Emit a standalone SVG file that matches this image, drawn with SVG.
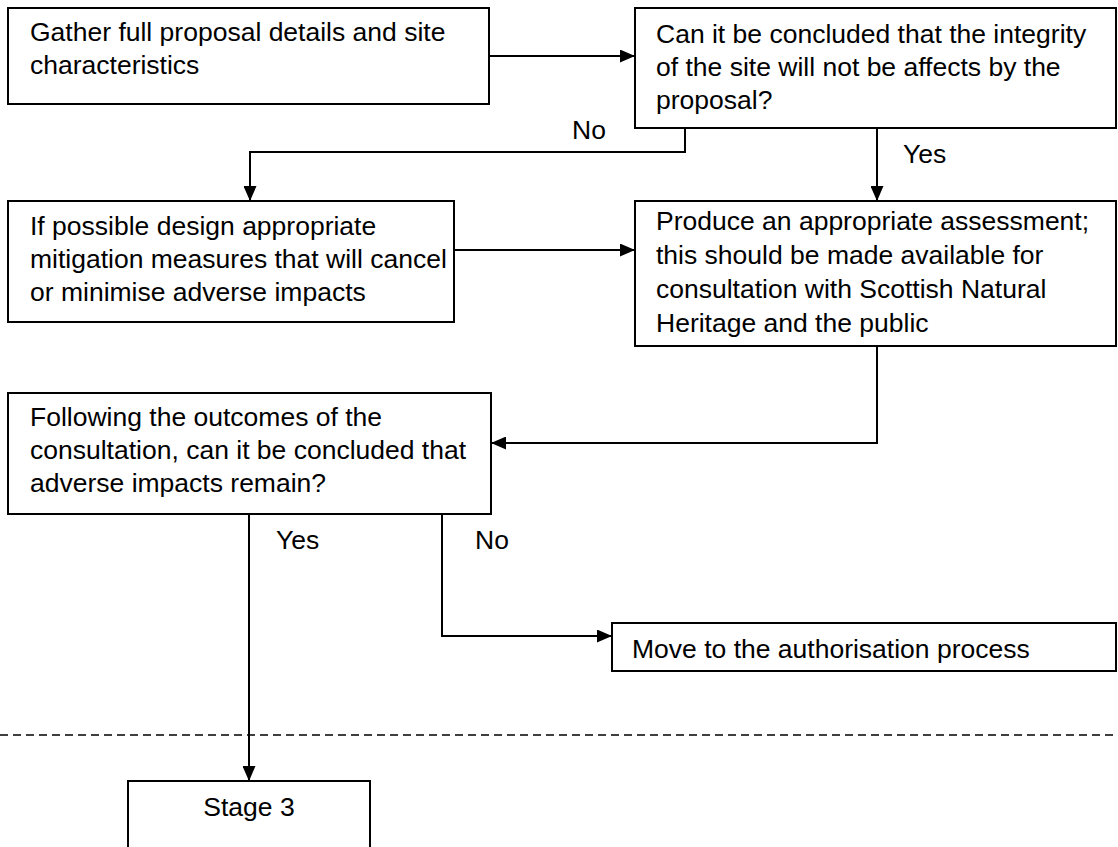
<svg xmlns="http://www.w3.org/2000/svg" width="1118" height="847" viewBox="0 0 1118 847">
  <defs>
    <marker id="arrow" viewBox="0 0 15 13" refX="15" refY="6.5" markerWidth="15" markerHeight="13" markerUnits="userSpaceOnUse" orient="auto">
      <path d="M0,0 L15,6.5 L0,13 Z" fill="#000"/>
    </marker>
    <style>
      .box { fill: #fff; stroke: #000; stroke-width: 2; }
      .txt { font-family: "Liberation Sans", Arial, sans-serif; font-size: 26.5px; fill: #000; }
      .link { fill: none; stroke: #000; stroke-width: 2; }
      .dash { fill: none; stroke: #000; stroke-width: 1.3; stroke-dasharray: 8 5; }
    </style>
  </defs>
  <rect width="1118" height="847" fill="#fff"/>

  <g id="connectors">
    <path class="link" d="M489,56 H635" marker-end="url(#arrow)"/>
    <path class="link" d="M685,128 V152 H250 V201" marker-end="url(#arrow)"/>
    <path class="link" d="M877,128 V201" marker-end="url(#arrow)"/>
    <path class="link" d="M454,250 H635" marker-end="url(#arrow)"/>
    <path class="link" d="M877,346 V443 H491" marker-end="url(#arrow)"/>
    <path class="link" d="M249,514 V781" marker-end="url(#arrow)"/>
    <path class="link" d="M442,514 V636 H612" marker-end="url(#arrow)"/>
    <text class="txt" x="572" y="139">No</text>
    <text class="txt" x="903" y="163">Yes</text>
    <text class="txt" x="276" y="549">Yes</text>
    <text class="txt" x="475" y="549">No</text>
  </g>

  <g id="gather">
    <rect class="box" x="8" y="8" width="481" height="96"/>
    <text class="txt" x="30" y="41">Gather full proposal details and site</text>
    <text class="txt" x="30" y="74">characteristics</text>
  </g>

  <g id="integrity">
    <rect class="box" x="635" y="8" width="481" height="120"/>
    <text class="txt" x="656" y="43">Can it be concluded that the integrity</text>
    <text class="txt" x="656" y="76">of the site will not be affects by the</text>
    <text class="txt" x="656" y="109">proposal?</text>
  </g>

  <g id="mitigation">
    <rect class="box" x="8" y="201" width="446" height="121"/>
    <text class="txt" x="30" y="235">If possible design appropriate</text>
    <text class="txt" x="30" y="268">mitigation measures that will cancel</text>
    <text class="txt" x="30" y="301">or minimise adverse impacts</text>
  </g>

  <g id="assessment">
    <rect class="box" x="635" y="201" width="481" height="145"/>
    <text class="txt" x="656" y="230">Produce an appropriate assessment;</text>
    <text class="txt" x="656" y="264">this should be made available for</text>
    <text class="txt" x="656" y="298">consultation with Scottish Natural</text>
    <text class="txt" x="656" y="332">Heritage and the public</text>
  </g>

  <g id="outcomes">
    <rect class="box" x="8" y="393" width="483" height="121"/>
    <text class="txt" x="30" y="426">Following the outcomes of the</text>
    <text class="txt" x="30" y="459">consultation, can it be concluded that</text>
    <text class="txt" x="30" y="492">adverse impacts remain?</text>
  </g>

  <g id="authorisation">
    <rect class="box" x="612" y="623" width="504" height="48"/>
    <text class="txt" x="632" y="658">Move to the authorisation process</text>
  </g>

  <path class="dash" d="M0,735 H1118"/>

  <g id="stage3">
    <rect class="box" x="128" y="781" width="242" height="80"/>
    <text class="txt" x="249" y="816" text-anchor="middle">Stage 3</text>
  </g>
</svg>
